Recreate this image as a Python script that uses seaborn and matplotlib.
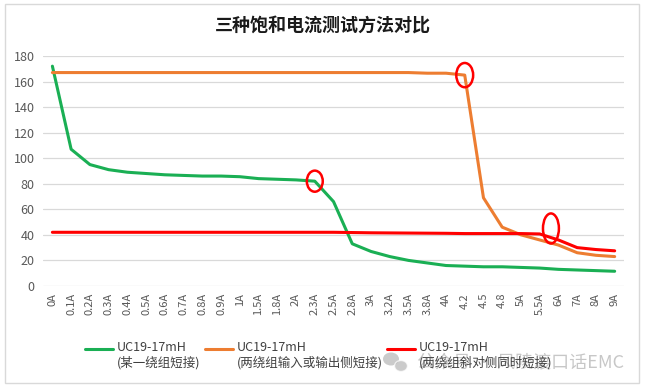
"""
三种饱和电流测试方法对比 —— 折线图
"""
import seaborn as sns
import pandas as pd
import matplotlib.pyplot as plt
from matplotlib.patches import Ellipse, Rectangle

# 横轴电流档位
currents = ['0A', '0.1A', '0.2A', '0.3A', '0.4A', '0.5A', '0.6A', '0.7A', '0.8A', '0.9A',
            '1A', '1.5A', '1.8A', '2A', '2.3A', '2.5A', '2.8A', '3A', '3.2A', '3.5A',
            '3.8A', '4A', '4.2', '4.5', '4.8', '5A', '5.5A', '6A', '7A', '8A', '9A']

# 电感量 (mH)
one_winding = [172, 107, 95, 91, 89, 88, 87, 86.5, 86, 86,
               85.5, 84, 83.5, 83, 82, 66, 33, 27, 23, 20,
               18, 16, 15.5, 15, 15, 14.5, 14, 13, 12.5, 12, 11.5]
in_or_out = [167, 167, 167, 167, 167, 167, 167, 167, 167, 167,
             167, 167, 167, 167, 167, 167, 167, 167, 167, 167,
             166.5, 166.5, 165, 69, 46, 40, 36, 32, 26, 24, 23]
diagonal = [42, 42, 42, 42, 42, 42, 42, 42, 42, 42,
            42, 42, 42, 42, 42, 42, 41.8, 41.6, 41.5, 41.4,
            41.3, 41.2, 41, 41, 41, 41, 40.7, 36, 30, 28.5, 27.5]

labels = ['UC19-17mH\n(某一绕组短接)', 'UC19-17mH\n(两绕组输入或输出侧短接)', 'UC19-17mH\n(两绕组斜对侧同时短接)']
colors = ['#1AAF54', '#ED7D31', '#FF0000']

sns.set_style('white')
plt.rcParams['font.family'] = ['Noto Sans CJK SC', 'DejaVu Sans']

frames = []
for lab, vals in zip(labels, [one_winding, in_or_out, diagonal]):
    frames.append(pd.DataFrame({'电流': currents, '电感': vals, '方法': lab}))
df = pd.concat(frames, ignore_index=True)

fig = plt.figure(figsize=(6.45, 3.88), dpi=100)
ax = fig.add_axes([0.0667, 0.263, 0.9008, 0.5928])

sns.lineplot(data=df, x='电流', y='电感', hue='方法', palette=colors,
             sort=False, linewidth=2.2, ax=ax, legend=True)

ax.set_xlim(-0.5, len(currents) - 0.5)
ax.set_ylim(0, 180)
ax.set_yticks(range(0, 181, 20))
ax.set_xticks(range(len(currents)))
ax.set_xticklabels(currents, rotation=90, fontsize=8, color='#595959')
ax.tick_params(axis='y', labelsize=9, labelcolor='#595959', length=0, pad=6)
ax.tick_params(axis='x', length=0, pad=5)
ax.grid(axis='y', color='#D9D9D9', linewidth=0.9)
ax.set_axisbelow(True)
for s in ax.spines.values():
    s.set_visible(False)
ax.set_xlabel('')
ax.set_ylabel('')

# 饱和点红圈标注
marks = [(currents.index('2.3A'), one_winding[14], 0.85, 16.5),
         (currents.index('4.2'), in_or_out[22], 0.9, 19),
         (currents.index('5.5A') + 0.6, 45, 0.85, 23.5)]
for cx, cy, w, h in marks:
    ax.add_patch(Ellipse((cx, cy), w, h, fill=False, edgecolor='#FF0000', linewidth=1.8, zorder=5))

handles, _ = ax.get_legend_handles_labels()
ax.get_legend().remove()
# handleheight 调大，让图例线条与第一行文字对齐
fig.legend(handles, labels, ncol=3, loc='upper left', bbox_to_anchor=(0.1318, 0.131),
           frameon=False, fontsize=9, handlelength=2.25, handleheight=4.55,
           handletextpad=0.3, columnspacing=0.35, labelcolor='#404040',
           borderaxespad=0, borderpad=0)

fig.text(0.5, 0.936, '三种饱和电流测试方法对比', ha='center', va='center',
         fontsize=13, fontweight='bold', color='#1a1a1a')

# 水印
fig.patches.append(Ellipse((391 / 645, 1 - 359 / 388), 16 / 645, 13 / 388, transform=fig.transFigure,
                           facecolor='#b5b5b5', edgecolor='none', alpha=0.7))
fig.patches.append(Ellipse((401 / 645, 1 - 366 / 388), 13 / 645, 11 / 388, transform=fig.transFigure,
                           facecolor='#b5b5b5', edgecolor='white', linewidth=1, alpha=0.7))
fig.text(0.6465, 0.067, '公众号 · 风陵渡口话EMC', ha='left', va='center',
         fontsize=13, color='#9a9a9a', alpha=0.55)

fig.patches.append(Rectangle((0.0078, 0.013), 0.983, 0.977, transform=fig.transFigure,
                             fill=False, edgecolor='#D9D9D9', linewidth=1))

fig.savefig('out.png', dpi=100)
